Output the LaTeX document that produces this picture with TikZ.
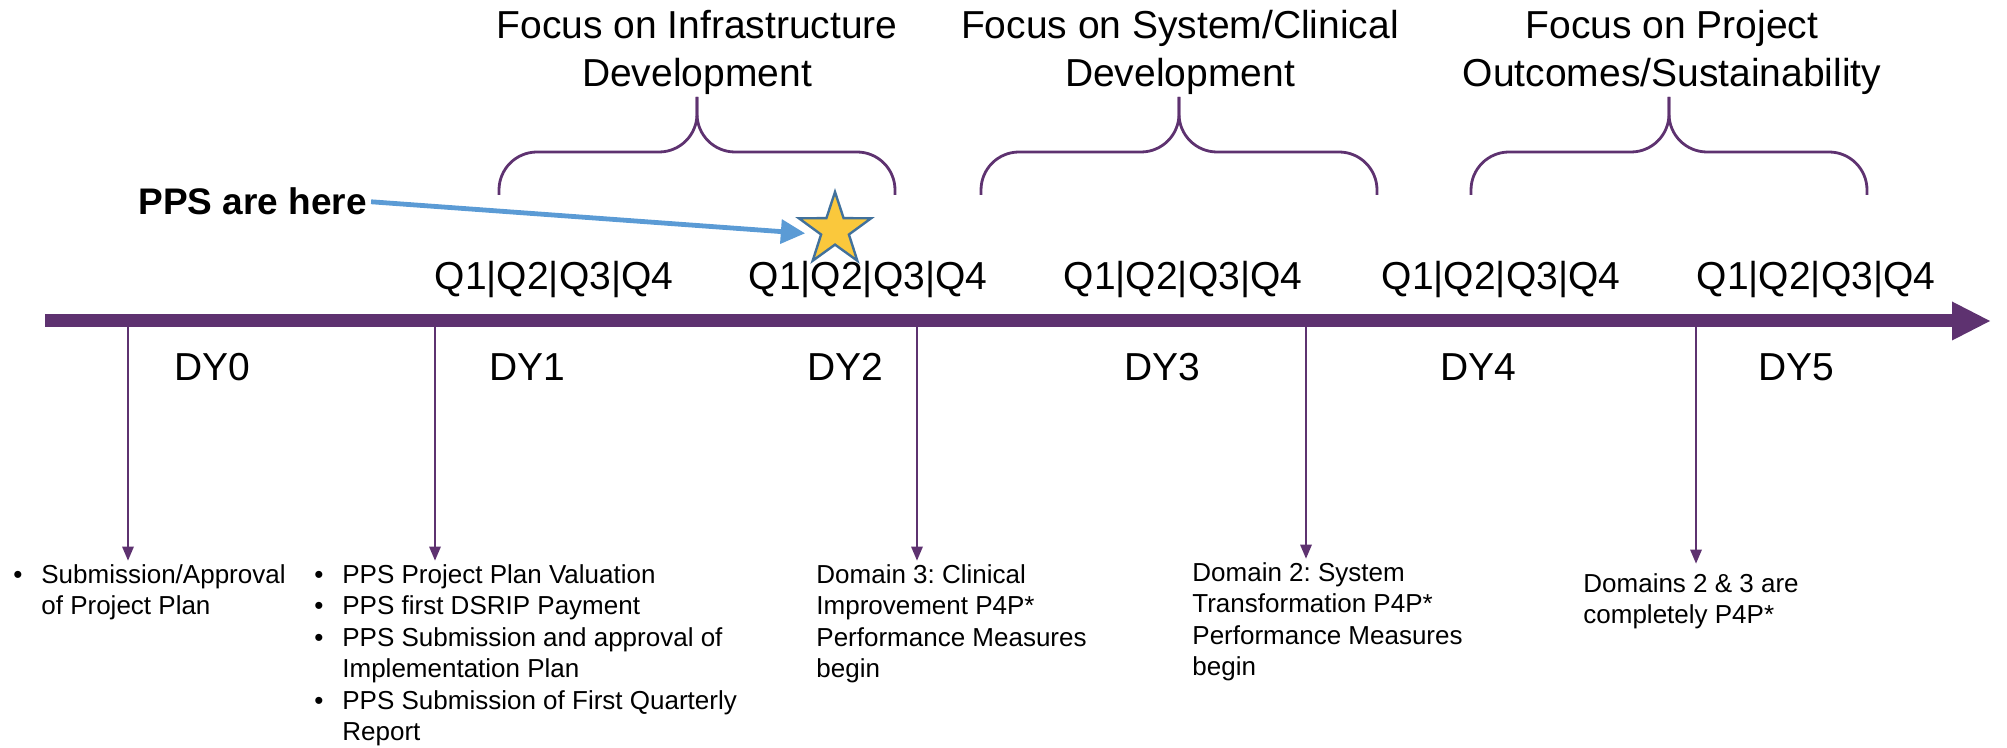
\documentclass[tikz,border=0pt]{standalone}
\usepackage{fontspec}
\setmainfont{Liberation Sans}
\usetikzlibrary{arrows.meta,shapes.geometric}

\definecolor{tlpurple}{RGB}{94,50,112}
\definecolor{ppsblue}{RGB}{91,155,213}
\definecolor{stargold}{RGB}{250,200,60}
\definecolor{starblue}{RGB}{65,113,156}

\newcommand{\itembullet}{\makebox[14pt][l]{\textbullet}}
\frenchspacing

\begin{document}
\begin{tikzpicture}[x=0.5pt,y=-0.5pt,
  axisline/.style={draw=tlpurple, line width=6.5pt, -{Triangle[length=19pt,width=19.5pt,line width=0pt]}},
  bracepath/.style={draw=tlpurple, line width=1.4pt, rounded corners=19pt},
  tickarrow/.style={draw=tlpurple, line width=0.7pt, -{Triangle[length=7pt,width=6pt,line width=0pt]}},
  herearrow/.style={draw=ppsblue, line width=2.4pt, shorten >=7pt, -{Triangle[length=12pt,width=12.5pt,line width=0pt]}},
  goldstar/.style={star, star points=5, star point ratio=2.6, minimum size=38pt, inner sep=0pt, fill=stargold, draw=starblue, line width=1.2pt},
  headtext/.style={anchor=base, inner sep=0pt, font=\fontsize{19.5}{24}\selectfont},
  bigtext/.style={anchor=base, inner sep=0pt, font=\fontsize{19.5}{24}\selectfont},
  listtext/.style={anchor=base west, inner sep=0pt, font=\fontsize{13}{15.75}\selectfont}]

\useasboundingbox (0,0) rectangle (2007,748);

%%%%%% headers and braces

%infrastructure
\node[headtext] (focusinfra) at (697,39) {\begin{tabular}[t]{@{}c@{}}Focus on Infrastructure\\Development\end{tabular}};
\draw[bracepath] (499,195) -- (499,152) -- (697,152) -- (697,97);
\draw[bracepath] (895,195) -- (895,152) -- (697,152) -- (697,97);

%system/clinical
\node[headtext] (focussystem) at (1180,39) {\begin{tabular}[t]{@{}c@{}}Focus on System/Clinical\\Development\end{tabular}};
\draw[bracepath] (981,195) -- (981,152) -- (1179,152) -- (1179,97);
\draw[bracepath] (1377,195) -- (1377,152) -- (1179,152) -- (1179,97);

%outcomes
\node[headtext] (focusproject) at (1672,39) {\begin{tabular}[t]{@{}c@{}}Focus on Project\\Outcomes/Sustainability\end{tabular}};
\draw[bracepath] (1471,195) -- (1471,152) -- (1669,152) -- (1669,97);
\draw[bracepath] (1867,195) -- (1867,152) -- (1669,152) -- (1669,97);

%%%%%% you are here

\node[goldstar] (here) at (835,230) {};
\node[anchor=base west, inner sep=2pt, font=\fontsize{18.5}{22}\selectfont\bfseries] (ppslabel) at (134,215) {PPS are here};
\draw[herearrow] (ppslabel.east) -- (here.195);

%%%%%% quarters

\node[bigtext] (qyearone) at (554,290) {Q1|Q2|Q3|Q4};
\node[bigtext] (qyeartwo) at (868,290) {Q1|Q2|Q3|Q4};
\node[bigtext] (qyearthree) at (1183,290) {Q1|Q2|Q3|Q4};
\node[bigtext] (qyearfour) at (1501,290) {Q1|Q2|Q3|Q4};
\node[bigtext] (qyearfive) at (1816,290) {Q1|Q2|Q3|Q4};

%%%%%% time axis

\draw[axisline] (45,321) -- (1990,321);

%years
\node[bigtext] (dyzero) at (212,380) {DY0};
\node[bigtext] (dyone) at (527,380) {DY1};
\node[bigtext] (dytwo) at (845,380) {DY2};
\node[bigtext] (dythree) at (1162,380) {DY3};
\node[bigtext] (dyfour) at (1478,380) {DY4};
\node[bigtext] (dyfive) at (1796,380) {DY5};

%%%%%% milestones

\node[listtext] (dyzerolist) at (13,583) {\begin{tabular}[t]{@{}l@{}l@{}}
\itembullet & Submission/Approval\\
 & of Project Plan
\end{tabular}};

\node[listtext] (dyonelist) at (314,583) {\begin{tabular}[t]{@{}l@{}l@{}}
\itembullet & PPS Project Plan Valuation\\
\itembullet & PPS first DSRIP Payment\\
\itembullet & PPS Submission and approval of\\
 & Implementation Plan\\
\itembullet & PPS Submission of First Quarterly\\
 & Report
\end{tabular}};

\node[listtext] (domainthree) at (816,583) {\begin{tabular}[t]{@{}l@{}}
Domain 3: Clinical\\
Improvement P4P*\\
Performance Measures\\
begin
\end{tabular}};

\node[listtext] (domaintwo) at (1192,581) {\begin{tabular}[t]{@{}l@{}}
Domain 2: System\\
Transformation P4P*\\
Performance Measures\\
begin
\end{tabular}};

\node[listtext] (domainsall) at (1583,592) {\begin{tabular}[t]{@{}l@{}}
Domains 2 \& 3 are\\
completely P4P*
\end{tabular}};

%tick arrows
\coordinate (tickzero) at (128,321);
\coordinate (tickone) at (435,321);
\coordinate (ticktwo) at (917,321);
\coordinate (tickthree) at (1306,321);
\coordinate (tickfive) at (1696,321);

\draw[tickarrow] (tickzero) -- (tickzero |- dyzerolist.north);
\draw[tickarrow] (tickone) -- (tickone |- dyonelist.north);
\draw[tickarrow] (ticktwo) -- (ticktwo |- domainthree.north);
\draw[tickarrow] (tickthree) -- (tickthree |- domaintwo.north);
\draw[tickarrow, shorten >=3pt] (tickfive) -- (tickfive |- domainsall.north);

\end{tikzpicture}
\end{document}
